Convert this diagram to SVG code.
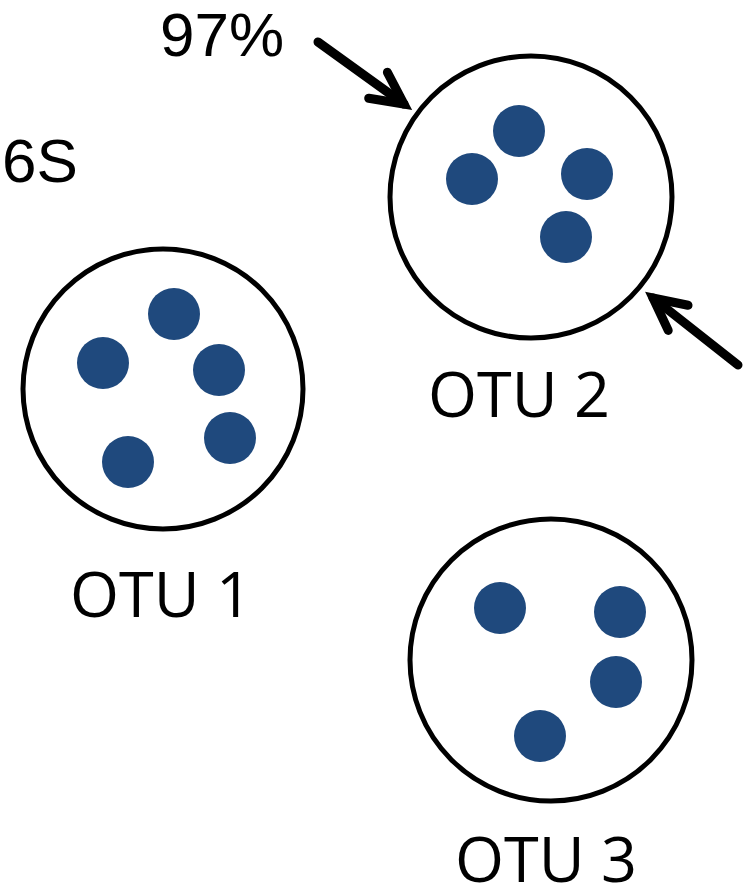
<svg xmlns="http://www.w3.org/2000/svg" width="748" height="888" viewBox="0 0 748 888">
  <style>
    .otu { fill: #ffffff; stroke: #000000; stroke-width: 5; }
    .dot { fill: #1F497D; }
    .lbl { font-family: "Open Sans", "Noto Sans", sans-serif; font-size: 63px; fill: #000000; text-anchor: middle; }
    .note { font-family: "Liberation Sans", Arial, sans-serif; font-size: 62px; fill: #000000; }
    .arrow { fill: none; stroke: #000000; stroke-width: 9; stroke-linecap: round; }
  </style>
  <defs>
    <marker id="chev" markerUnits="userSpaceOnUse" viewBox="-45 -30 60 60" markerWidth="60" markerHeight="60" refX="0" refY="0" orient="auto">
      <path d="M-32,-16 L0,0 L-32,16" fill="none" stroke="#000000" stroke-width="9" stroke-linecap="round" stroke-linejoin="miter"/>
    </marker>
  </defs>
  <rect width="748" height="888" fill="#ffffff"/>

  <text class="note" x="2" y="182">6S</text>
  <text class="note" x="160" y="56">97%</text>

  <g id="otu1">
    <circle class="otu" cx="163" cy="389" r="140"/>
    <circle class="dot" cx="174" cy="314" r="26"/>
    <circle class="dot" cx="103" cy="363" r="26"/>
    <circle class="dot" cx="219" cy="370" r="26"/>
    <circle class="dot" cx="230" cy="438" r="26"/>
    <circle class="dot" cx="128" cy="462" r="26"/>
    <text class="lbl" x="161" y="617">OTU 1</text>
  </g>

  <g id="otu2">
    <circle class="otu" cx="531" cy="197" r="141"/>
    <circle class="dot" cx="519" cy="131" r="26"/>
    <circle class="dot" cx="472" cy="179" r="26"/>
    <circle class="dot" cx="587" cy="174" r="26"/>
    <circle class="dot" cx="566" cy="237" r="26"/>
    <text class="lbl" x="519" y="417">OTU 2</text>
  </g>

  <g id="otu3">
    <circle class="otu" cx="551" cy="660" r="141"/>
    <circle class="dot" cx="500" cy="608" r="26"/>
    <circle class="dot" cx="620" cy="612" r="26"/>
    <circle class="dot" cx="616" cy="682" r="26"/>
    <circle class="dot" cx="540" cy="736" r="26"/>
    <text class="lbl" x="546" y="882">OTU 3</text>
  </g>

  <g id="connectors">
    <path class="arrow" d="M318,42 L404,104" marker-end="url(#chev)"/>
    <path class="arrow" d="M738,365 L653,298" marker-end="url(#chev)"/>
  </g>
</svg>
